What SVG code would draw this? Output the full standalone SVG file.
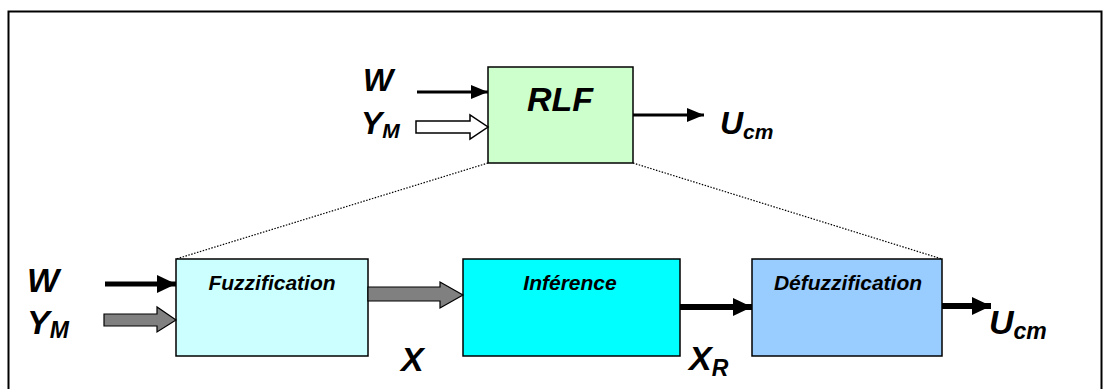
<svg xmlns="http://www.w3.org/2000/svg" width="1110" height="389" viewBox="0 0 1110 389">
  <style>
    text { font-family: "Liberation Sans", Arial, sans-serif; font-weight: bold; font-style: italic; fill: #000; }
    .box { stroke: #000; stroke-width: 1.5; }
    .lbl { font-size: 21px; text-anchor: middle; }
    .big { font-size: 32px; }
    .huge { font-size: 34px; }
    .sub { font-size: 21px; }
    .sub2 { font-size: 23px; }
    .dots { stroke: #000; stroke-width: 1.2; stroke-dasharray: 1.5 1.5; fill: none; }
    .wire { stroke: #000; fill: none; }
    .fat { fill: #808080; stroke: #000; stroke-width: 1.2; }
    .hollow { fill: #fff; stroke: #000; stroke-width: 1.5; }
  </style>
  <defs>
    <marker id="head-s" markerUnits="userSpaceOnUse" markerWidth="18" markerHeight="14" refX="17" refY="7" orient="auto">
      <path d="M0,0 L17,7 L0,14 Z" fill="#000"/>
    </marker>
    <marker id="head-l" markerUnits="userSpaceOnUse" markerWidth="20" markerHeight="18" refX="19" refY="9" orient="auto">
      <path d="M0,0 L19,9 L0,18 Z" fill="#000"/>
    </marker>
  </defs>

  <!-- outer frame -->
  <rect x="8.5" y="11.5" width="1093" height="400" fill="#fff" stroke="#000" stroke-width="2"/>

  <!-- zoom guides from the controller to the detailed chain -->
  <g id="guides">
    <line class="dots" x1="488" y1="163" x2="176" y2="259"/>
    <line class="dots" x1="633" y1="163" x2="942" y2="259"/>
  </g>

  <!-- controller block -->
  <g id="rlf">
    <rect class="box" x="488" y="67" width="145" height="96" fill="#ccffcc"/>
    <text x="527" y="111" style="font-size:34px">RLF</text>
  </g>

  <g id="fuzzification">
    <rect class="box" x="176" y="259" width="192" height="97" fill="#ccffff"/>
    <text class="lbl" x="272" y="290">Fuzzification</text>
  </g>

  <g id="inference">
    <rect class="box" x="463" y="259" width="217" height="97" fill="#00ffff"/>
    <text class="lbl" x="570" y="290">Inférence</text>
  </g>

  <g id="defuzzification">
    <rect class="box" x="752" y="259" width="190" height="97" fill="#99ccff"/>
    <text class="lbl" x="848" y="290">Défuzzification</text>
  </g>

  <!-- signal labels -->
  <g id="labels">
    <text class="big" x="363" y="91">W</text>
    <text class="big" x="361" y="134">Y<tspan class="sub" dy="4">M</tspan></text>
    <text class="big" x="720" y="134">U<tspan class="sub" dy="5">cm</tspan></text>

    <text class="huge" x="27" y="292">W</text>
    <text class="huge" x="27" y="334">Y<tspan class="sub2" dy="4">M</tspan></text>
    <text class="huge" x="401" y="371">X</text>
    <text class="huge" x="689" y="370">X<tspan class="sub2" dy="6">R</tspan></text>
    <text class="huge" x="989" y="334">U<tspan class="sub2" dy="5">cm</tspan></text>
  </g>

  <!-- connectors -->
  <g id="connectors">
    <line class="wire" x1="417" y1="92" x2="488" y2="92" stroke-width="3" marker-end="url(#head-s)"/>
    <path class="hollow" d="M416,121 L470,121 L470,115 L488,127 L470,139 L470,133 L416,133 Z"/>
    <line class="wire" x1="633" y1="115" x2="704" y2="115" stroke-width="3" marker-end="url(#head-s)"/>

    <line class="wire" x1="105" y1="284" x2="176" y2="284" stroke-width="5" marker-end="url(#head-l)"/>
    <path class="fat" d="M104,314 L157,314 L157,307 L176,320 L157,332 L157,326 L104,326 Z"/>
    <path class="fat" d="M368,287 L440,287 L440,282 L463,295 L440,308 L440,301 L368,301 Z"/>
    <line class="wire" x1="680" y1="307" x2="752" y2="307" stroke-width="6" marker-end="url(#head-l)"/>
    <line class="wire" x1="942" y1="306" x2="991" y2="306" stroke-width="6" marker-end="url(#head-l)"/>
  </g>
</svg>
